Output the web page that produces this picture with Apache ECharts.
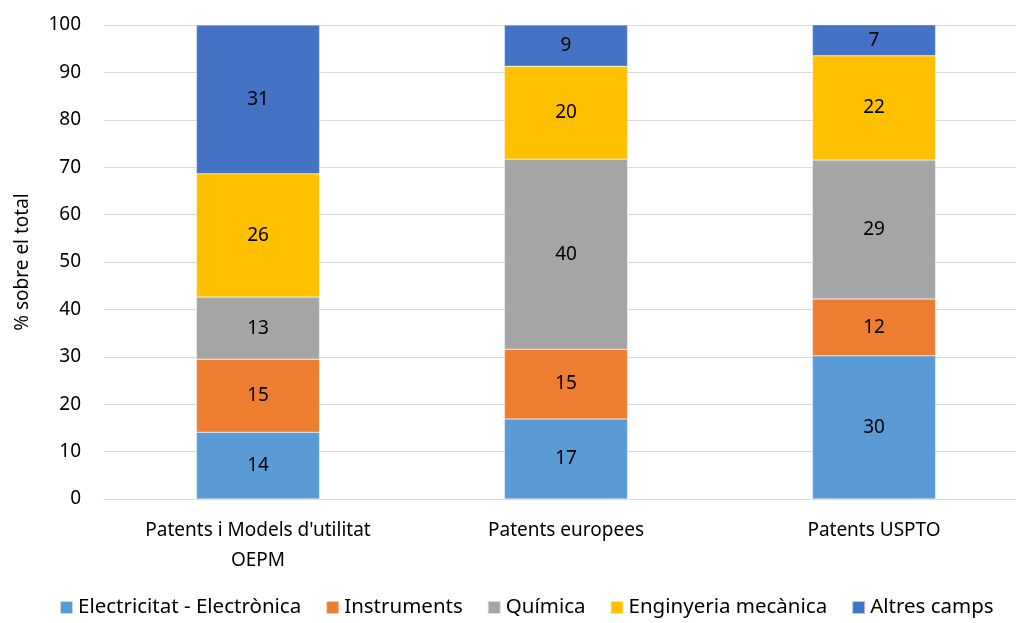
<!DOCTYPE html>
<html>
<head>
<meta charset="utf-8">
<script src="https://cdn.jsdelivr.net/npm/echarts@6/dist/echarts.min.js"></script>
<style>
  html, body { margin: 0; padding: 0; background: #fff; overflow: hidden; }
  #chart { width: 1028px; height: 623px; }
</style>
</head>
<body>
<div id="chart"></div>
<script>
// categories (x axis)
const categories = ["Patents i Models d'utilitat\nOEPM", 'Patents europees', 'Patents USPTO'];

// percentages, bottom to top
const electricitat = [14.1, 16.9, 30.2];
const instruments = [15.4, 14.7, 12.0];
const quimica = [13.1, 40.1, 29.3];
const enginyeria = [26.0, 19.6, 22.0];
const altres = [31.4, 8.7, 6.6];

const yTicks = { min: 0, max: 100, interval: 10 };

const FONT = '"Noto Sans", "DejaVu Sans", sans-serif';
const FS = 19;

function serie(name, data, color) {
    return {
        name: name,
        type: 'bar',
        stack: 'total',
        barWidth: '40%',
        data: data,
        itemStyle: { color: color, borderColor: 'rgba(255,255,255,0.6)', borderWidth: 0.5 },
        label: {
            show: true,
            position: 'inside',
            color: '#000',
            fontFamily: FONT,
            fontSize: FS,
            formatter: (p) => Math.round(p.value)
        }
    };
}

// the plot runs a little past the right edge of the window, as in the original
const myChart = echarts.init(document.getElementById('chart'));
const option = {
    animation: false,
    backgroundColor: '#fff',
    grid: { left: 104, right: 0, top: 25, bottom: 124 },
    legend: {
        bottom: 0,
        left: 54,
        itemWidth: 13,
        itemHeight: 13,
        itemGap: 24,
        icon: 'rect',
        textStyle: { fontFamily: FONT, fontSize: 20.5, color: '#000' },
        data: ['Electricitat - Electrònica', 'Instruments', 'Química', 'Enginyeria mecànica', 'Altres camps']
    },
    xAxis: {
        type: 'category',
        data: categories,
        axisLine: { lineStyle: { color: '#d9d9d9', width: 1 } },
        axisTick: { show: false },
        axisLabel: { color: '#000', fontFamily: FONT, fontSize: FS, lineHeight: 30, margin: 17 }
    },
    yAxis: {
        type: 'value',
        min: yTicks.min,
        max: yTicks.max,
        interval: yTicks.interval,
        name: '% sobre el total',
        nameLocation: 'middle',
        nameGap: 72,
        nameTextStyle: { color: '#000', fontFamily: FONT, fontSize: FS },
        axisLine: { show: false },
        axisTick: { show: false },
        axisLabel: { color: '#000', fontFamily: FONT, fontSize: FS, margin: 23 },
        splitLine: { lineStyle: { color: '#d9d9d9', width: 1 } }
    },
    series: [
        serie('Electricitat - Electrònica', electricitat, '#5B9BD5'),
        serie('Instruments', instruments, '#ED7D31'),
        serie('Química', quimica, '#A5A5A5'),
        serie('Enginyeria mecànica', enginyeria, '#FFC000'),
        serie('Altres camps', altres, '#4472C4')
    ]
};
myChart.setOption(option);
</script>
</body>
</html>
